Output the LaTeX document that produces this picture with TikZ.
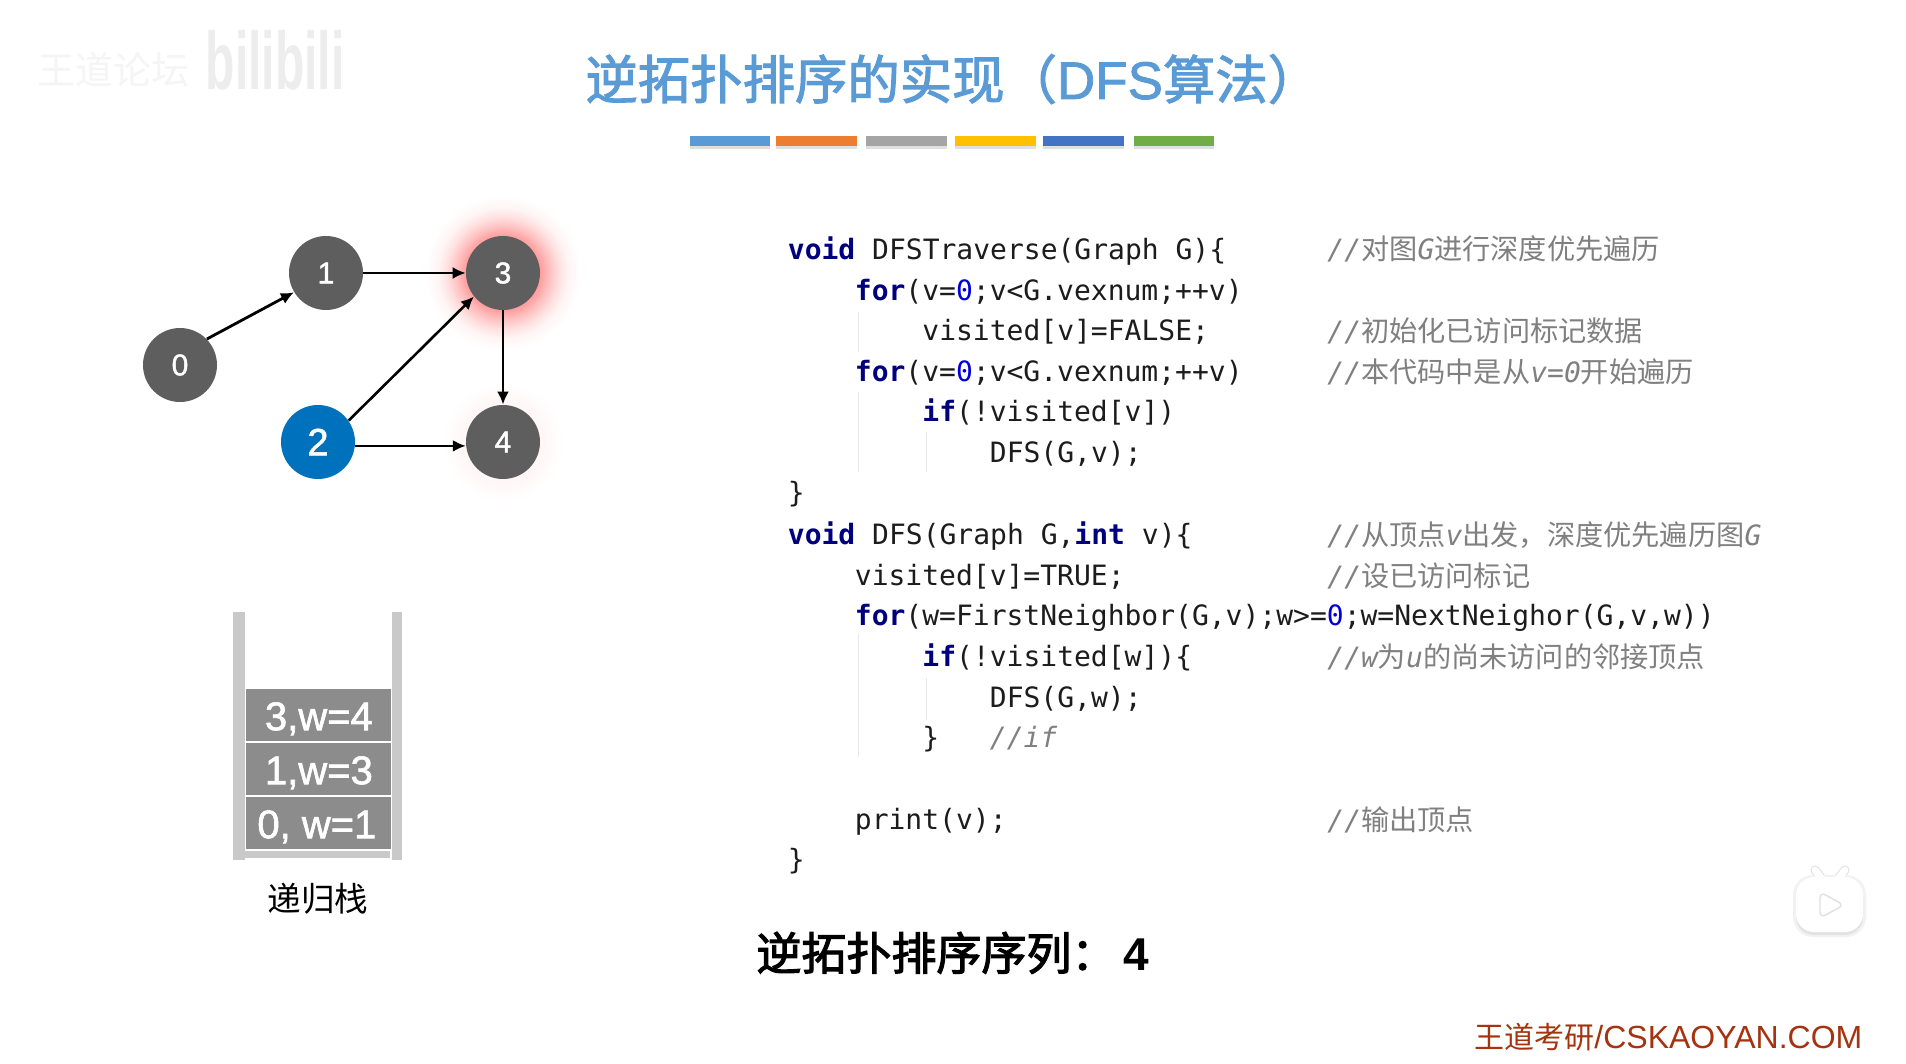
\documentclass[tikz,border=0pt]{standalone}
\usepackage{fontspec}
\usetikzlibrary{arrows.meta}
\newfontfamily\cjk{Noto Sans CJK SC}
\newfontfamily\cjkm[FakeBold=2]{Noto Sans CJK SC}
\newfontfamily\cjkb[FakeBold=2.5]{Noto Sans CJK SC}
\newfontfamily\code{DejaVu Sans Mono}
\newfontfamily\hv{Liberation Sans}
\newfontfamily\hvm[FakeBold=1.5]{Liberation Sans}
\setmainfont{Liberation Sans}
\definecolor{kwc}{HTML}{00007F}
\definecolor{numc}{HTML}{0000D8}
\definecolor{txtc}{HTML}{1C1C1C}
\definecolor{cmc}{HTML}{808080}
\definecolor{vgray}{HTML}{5E5E5E}
\definecolor{vblue}{HTML}{0071BC}
\definecolor{titlec}{HTML}{5B9BD5}
\definecolor{brandc}{HTML}{A5330F}
\pgfdeclareradialshading{glowa}{\pgfpoint{0bp}{0bp}}{color(0bp)=(red!38!white); color(12bp)=(red!38!white); color(15bp)=(red!24!white); color(18bp)=(red!12!white); color(21bp)=(red!4!white); color(25bp)=(white); color(50bp)=(white)}
\pgfdeclareradialshading{glowb}{\pgfpoint{0bp}{0bp}}{color(0bp)=(red!4!white); color(15bp)=(red!4!white); color(20bp)=(red!2!white); color(25bp)=(white); color(50bp)=(white)}
\newcommand{\kw}[1]{{\bfseries\color{kwc}#1}}
\newcommand{\nm}[1]{{\color{numc}#1}}
\newcommand{\zh}[1]{{\cjk\upshape\fontsize{14.1}{16}\selectfont #1}}
\newcommand{\blk}[1]{\raisebox{-7.4pt}[8pt][8pt]{#1}}
\tikzset{
  vertex/.style={circle,fill=vgray,text=white,inner sep=0pt,minimum size=37pt,font=\hvm\fontsize{15}{18}\selectfont},
  bluev/.style={vertex,fill=vblue,font=\hvm\fontsize{19}{22}\selectfont},
  edge/.style={-{Latex[length=6.5pt,width=6pt]},line width=1pt,black},
  codeline/.style={anchor=base west,inner sep=0pt,text=txtc,font=\code\fontsize{14}{16}\selectfont},
  cmt/.style={codeline,text=cmc,font=\code\itshape\fontsize{14}{16}\selectfont},
  guide/.style={line width=0.5pt,color=black!9},
  wall/.style={fill=black!21,draw=none},
  block/.style={fill=black!45,text=white,inner sep=0pt,minimum width=72.5pt,minimum height=26pt,anchor=north west,font=\hvm\fontsize{20}{24}\selectfont}
}
\begin{document}
\begin{tikzpicture}[x=0.5pt,y=-0.5pt]
\useasboundingbox[fill=white] (0,0) rectangle (1906,1064);
% watermark
\node[anchor=center,text=black!4,inner sep=0pt,font=\cjk\fontsize{19}{22}\selectfont] (wm1) at (113,70) {王道论坛};
\node[anchor=center,text=black!7,inner sep=0pt,font=\hv\bfseries\fontsize{24}{28}\selectfont] (wm2) at (275,60) {\scalebox{1}[1.7]{bilibili}};
% title
\node[anchor=base west,inner sep=0pt,text=titlec,font=\cjkm\fontsize{26.2}{30}\selectfont] (title) at (585,99) {逆拓扑排序的实现（{\hvm\fontsize{26.5}{30}\selectfont DFS}算法）};
% colour bars
\foreach \xa/\xb/\c in {690/770/5B9BD5,776/857/ED7D31,866/947/A5A5A5,955/1036/FFC000,1043/1124/4472C4,1134/1214/70AD47}{
  \definecolor{barc}{HTML}{\c}
  \fill[black!12] (\xa,140) rectangle (\xb,149);
  \fill[barc] (\xa,136) rectangle (\xb,146);
}
% glows
\shade[shading=glowa] (503,273) circle[radius=78];
\shade[shading=glowb] (503,442) circle[radius=60];
% graph
\node[vertex] (n0) at (180,365) {0};
\node[vertex] (n1) at (326,273) {1};
\node[bluev]  (n2) at (318,442) {2};
\node[vertex] (n3) at (503,273) {3};
\node[vertex] (n4) at (503,442) {4};
\draw[edge,line width=1.4pt] (n0.44) -- (n1.211);
\draw[edge] (n1) -- (n3);
\draw[edge,line width=1.3pt] (n2.35) -- (n3.219);
\draw[edge,line width=1.3pt] (n3) -- (n4);
\draw[edge,line width=1.3pt] (n2.-6) -- (n4.186);
% stack
\fill[wall] (233,612) rectangle (245,860);
\fill[wall] (392,612) rectangle (402,860);
\fill[wall] (245,851) rectangle (390,858);
\node[block] (s3) at (246,689) {\blk{3,w=4}};
\node[block] (s1) at (246,743) {\blk{1,w=3}};
\node[block] (s0) at (246,797) {\blk{0, w=1\hspace{2pt}}};
\node[inner sep=0pt,text=black,font=\cjk\fontsize{16.8}{20}\selectfont] (stacklabel) at (318,899) {递归栈};
% indent guides
\draw[guide] (858,312) -- (858,352);
\draw[guide] (858,392) -- (858,472);
\draw[guide] (926,432) -- (926,472);
\draw[guide] (858,634) -- (858,757);
\draw[guide] (926,678) -- (926,720);
% code
\node[codeline] (c0) at (787.5,259.5) {\kw{void} DFSTraverse(Graph G)\{};
\node[codeline] (c1) at (854.5,300) {\kw{for}(v=\nm{0};v<G.vexnum;++v)};
\node[codeline] (c2) at (922,340.9) {visited[v]=FALSE;};
\node[codeline] (c3) at (854.5,381.1) {\kw{for}(v=\nm{0};v<G.vexnum;++v)};
\node[codeline] (c4) at (922,421.8) {\kw{if}(!visited[v])};
\node[codeline] (c5) at (989.5,462.5) {DFS(G,v);};
\node[codeline] (c6) at (787.5,502.2) {\}};
\node[codeline] (c7) at (787.5,544.4) {\kw{void} DFS(Graph G,\kw{int} v)\{};
\node[codeline] (c8) at (854.5,585.1) {visited[v]=TRUE;};
\node[codeline] (c9) at (854.5,625.3) {\kw{for}(w=FirstNeighbor(G,v);w>=\nm{0};w=NextNeighor(G,v,w))};
\node[codeline] (c10) at (922,666) {\kw{if}(!visited[w])\{};
\node[codeline] (c11) at (989.5,707.2) {DFS(G,w);};
\node[codeline] (c12) at (922,747.9) {\}};
\node[cmt] (k12) at (989.5,747.9) {//if};
\node[codeline] (c14) at (854.5,829.3) {print(v);};
\node[codeline] (c15) at (787.5,869.5) {\}};
% comments
\node[cmt] (k0) at (1327,260) {//\zh{对图}G\zh{进行深度优先遍历}};
\node[cmt] (k2) at (1327,341.4) {//\zh{初始化已访问标记数据}};
\node[cmt] (k3) at (1327,382.1) {//\zh{本代码中是从}v=0\zh{开始遍历}};
\node[cmt] (k7) at (1327,545.4) {//\zh{从顶点}v\zh{出发，深度优先遍历图}G};
\node[cmt] (k8) at (1327,586.1) {//\zh{设已访问标记}};
\node[cmt] (k10) at (1327,667) {//w\zh{为}u\zh{的尚未访问的邻接顶点}};
\node[cmt] (k14) at (1327,830.3) {//\zh{输出顶点}};
% result
\node[anchor=base west,inner sep=0pt,text=black,font=\cjkb\fontsize{22.5}{26}\selectfont] (result) at (756,970) {逆拓扑排序序列：\hspace{3.5pt}{\hv\bfseries\fontsize{23}{26}\selectfont 4}};
% brand
\node[anchor=base west,inner sep=0pt,text=brandc,font=\cjk\fontsize{15}{18}\selectfont] (brand) at (1474,1048) {王道考研{\hv\fontsize{16}{18}\selectfont /CSKAOYAN.COM}};
% play icon
\draw[black!12,line width=4.5pt,line cap=round] (1815,870) -- (1823,880);
\draw[black!12,line width=4.5pt,line cap=round] (1845,870) -- (1837,880);
\fill[black!5,rounded corners=10pt] (1793,875) rectangle (1866,937);
\fill[black!11,rounded corners=9pt] (1796,880) rectangle (1863,935);
\draw[white,line width=3.5pt,line cap=round] (1815,870) -- (1823,880);
\draw[white,line width=3.5pt,line cap=round] (1845,870) -- (1837,880);
\fill[white,rounded corners=9pt] (1796,877) rectangle (1863,932);
\draw[fill=white,draw=black!12,line width=0.7pt,rounded corners=3pt,line join=round] (1820,892) -- (1844,905) -- (1820,918) -- cycle;
\end{tikzpicture}
\end{document}
